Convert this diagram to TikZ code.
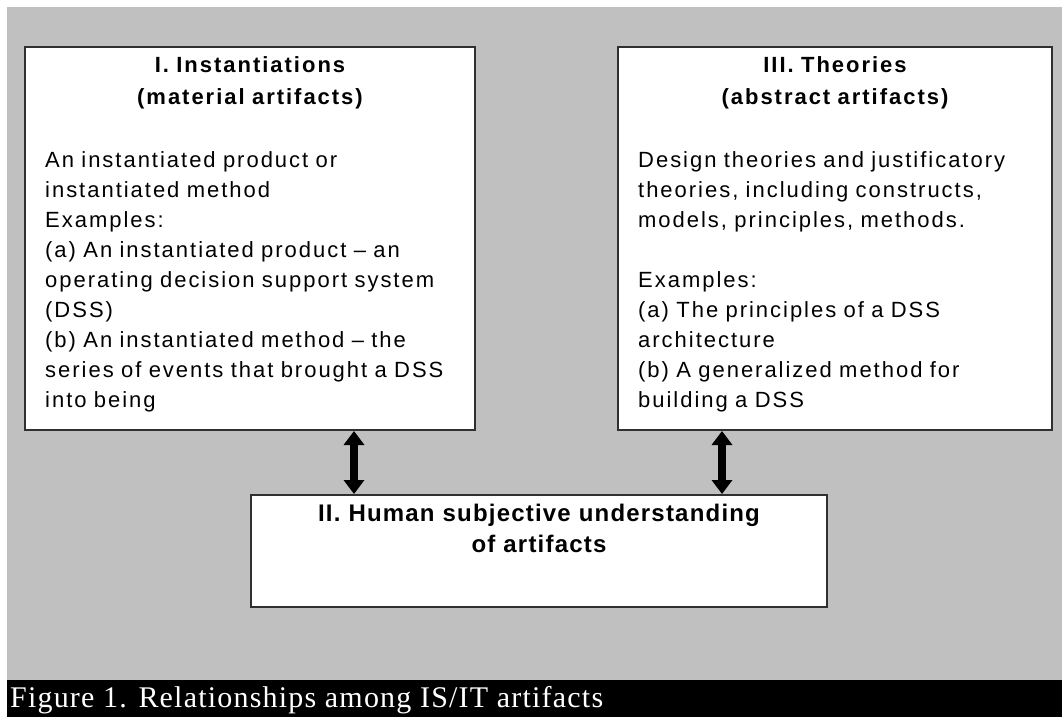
\documentclass[tikz,border=0pt]{standalone}
\usepackage{fontspec}
\setmainfont{Liberation Sans}
\newfontfamily\bodyfont[LetterSpace=9]{Liberation Sans}
\newfontfamily\titlefont[LetterSpace=9]{Liberation Sans}
\newfontfamily\bigtitlefont[LetterSpace=5]{Liberation Sans}
\newfontfamily\capfont[LetterSpace=4]{Liberation Serif}
\usetikzlibrary{arrows.meta}
\definecolor{bggray}{HTML}{C0C0C0}
\definecolor{edgegray}{HTML}{303030}
\tikzset{
  box/.style={draw=edgegray, line width=2pt, fill=white, inner sep=0pt, rectangle},
  titletext/.style={inner sep=0pt, align=center, text width=420pt, font=\titlefont\bfseries\fontsize{22}{32}\selectfont},
  bigtitletext/.style={inner sep=0pt, align=center, text width=560pt, font=\bigtitlefont\bfseries\fontsize{24}{31}\selectfont},
  bodytext/.style={inner sep=0pt, align=left, font=\bodyfont\fontsize{22}{30}\selectfont},
  captext/.style={inner sep=0pt, text=white, font=\capfont\fontsize{30}{32}\selectfont},
  dblarrow/.style={line width=8pt, {Triangle[width=20pt,length=14pt]}-{Triangle[width=20pt,length=14pt]}}
}
\begin{document}
\begin{tikzpicture}[x=1pt,y=-1pt]
\useasboundingbox (0,0) rectangle (1062,717);
\fill[white] (0,0) rectangle (1062,717);
\fill[bggray] (7,7) rectangle (1062,680);
\fill[black] (7,680) rectangle (1062,717);
% boxes
\node[box, minimum width=450pt, minimum height=383pt] (inst) at (250,238.5) {};
\node[box, minimum width=434pt, minimum height=383pt] (theo) at (835,238.5) {};
\node[box, minimum width=576pt, minimum height=112pt] (human) at (539,551) {};
% titles
\node[titletext, anchor=base] (instT) at (250,73) {I. Instantiations\\(material artifacts)};
\node[titletext, anchor=base] (theoT) at (835,73) {III. Theories\\(abstract artifacts)};
\node[bigtitletext, anchor=base] (humanT) at (539,521) {II. Human subjective understanding\\of artifacts};
% bodies
\node[bodytext, text width=420pt, anchor=base west] (instB) at (45,167) {An instantiated product or\\instantiated method\\Examples:\\(a) An instantiated product – an\\operating decision support system\\(DSS)\\(b) An instantiated method – the\\series of events that brought a DSS\\into being};
\node[bodytext, text width=410pt, anchor=base west] (theoB) at (638,167) {Design theories and justificatory\\theories, including constructs,\\models, principles, methods.\\[30pt]Examples:\\(a) The principles of a DSS\\architecture\\(b) A generalized method for\\building a DSS};
% connectors
\coordinate (a1) at (354,460);
\coordinate (a2) at (722,460);
\draw[dblarrow] (a1 |- inst.south) -- (a1 |- human.north);
\draw[dblarrow] (a2 |- theo.south) -- (a2 |- human.north);
% caption
\node[captext, anchor=base west] (cap) at (10,707) {Figure 1. Relationships among IS/IT artifacts};
\end{tikzpicture}
\end{document}
